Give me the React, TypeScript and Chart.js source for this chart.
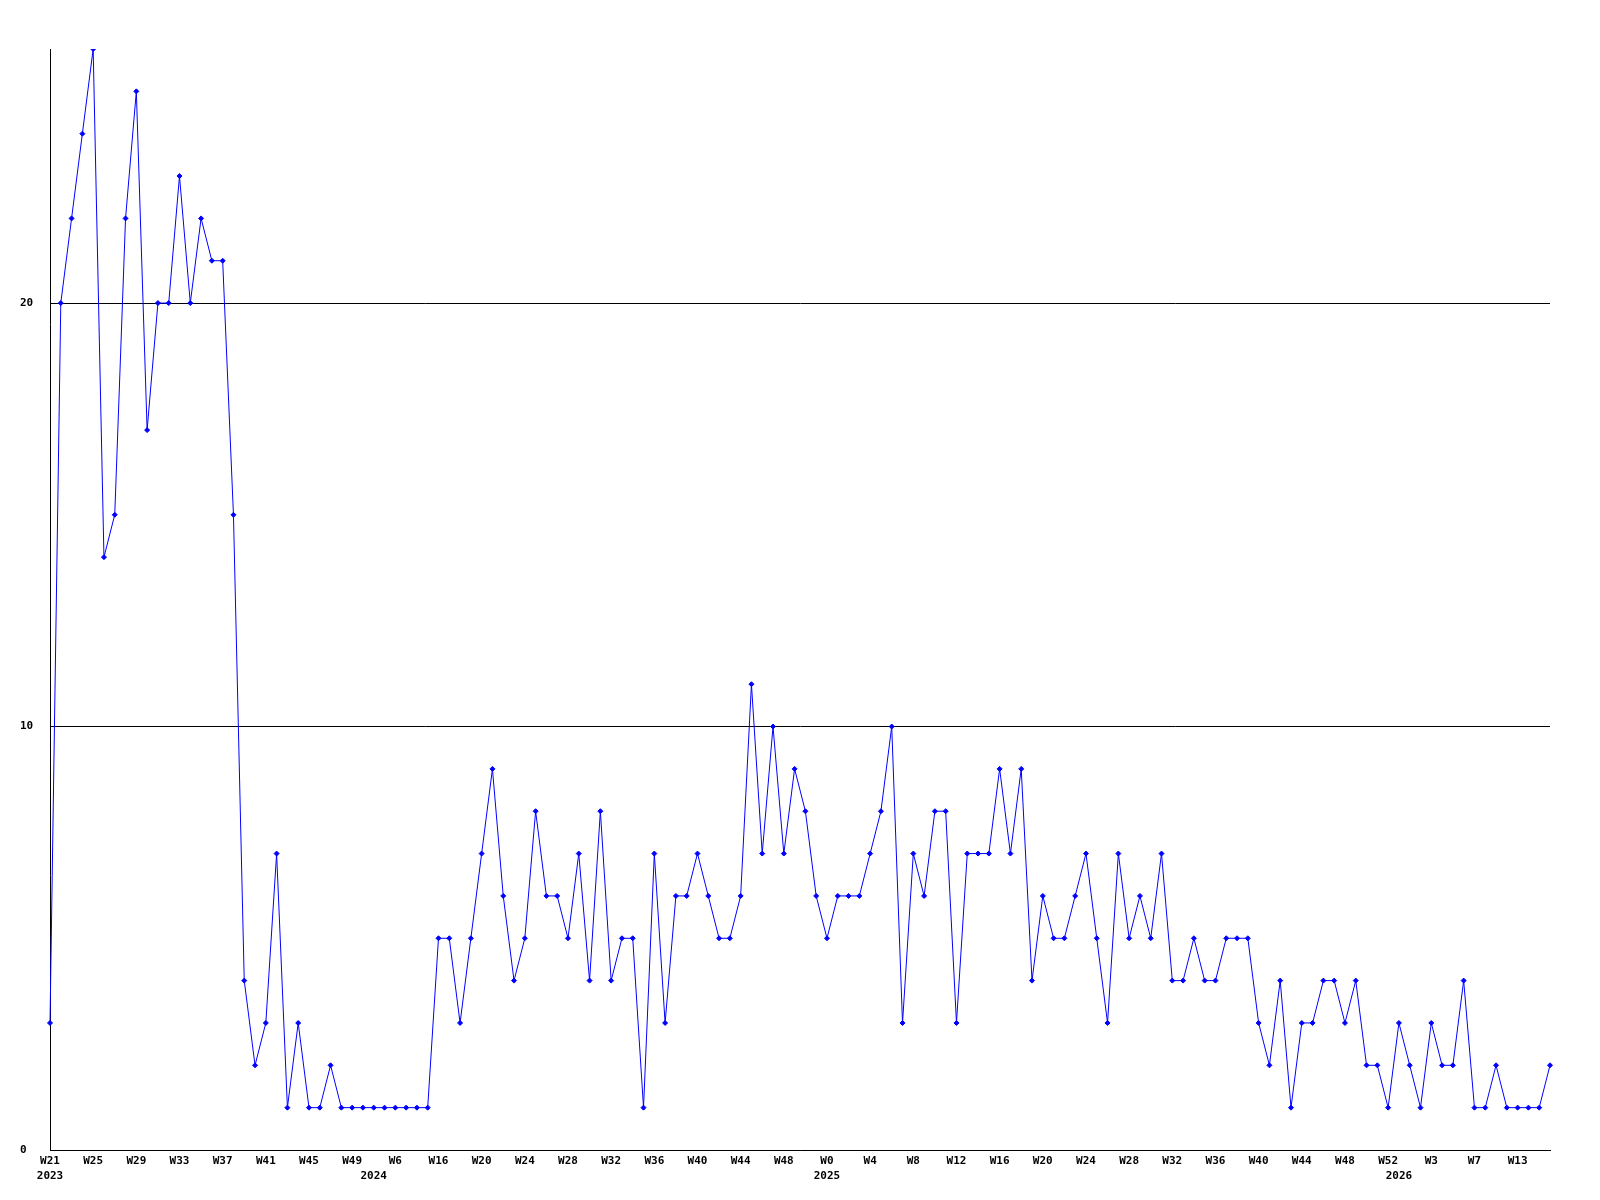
import React, { useEffect, useRef } from "react";
import { Chart, registerables } from "chart.js";

Chart.register(...registerables);

// Week labels shown every 4th point
const weekTicks = [
  "W21", "W25", "W29", "W33", "W37", "W41", "W45", "W49", "W6", "W16",
  "W20", "W24", "W28", "W32", "W36", "W40", "W44", "W48", "W0", "W4",
  "W8", "W12", "W16", "W20", "W24", "W28", "W32", "W36", "W40", "W44",
  "W48", "W52", "W3", "W7", "W13",
];

// Year labels and the point index where each starts
const yearLabels = ["2023", "2024", "2025", "2026"];
const yearIndex = [0, 30, 72, 125];

// Weekly values
const values = [
  3, 20, 22, 24, 26, 14, 15, 22, 25, 17,
  20, 20, 23, 20, 22, 21, 21, 15, 4, 2,
  3, 7, 1, 3, 1, 1, 2, 1, 1, 1,
  1, 1, 1, 1, 1, 1, 5, 5, 3, 5,
  7, 9, 6, 4, 5, 8, 6, 6, 5, 7,
  4, 8, 4, 5, 5, 1, 7, 3, 6, 6,
  7, 6, 5, 5, 6, 11, 7, 10, 7, 9,
  8, 6, 5, 6, 6, 6, 7, 8, 10, 3,
  7, 6, 8, 8, 3, 7, 7, 7, 9, 7,
  9, 4, 6, 5, 5, 6, 7, 5, 3, 7,
  5, 6, 5, 7, 4, 4, 5, 4, 4, 5,
  5, 5, 3, 2, 4, 1, 3, 3, 4, 4,
  3, 4, 2, 2, 1, 3, 2, 1, 3, 2,
  2, 4, 1, 1, 2, 1, 1, 1, 1, 2,
];

const yTicks = [0, 10, 20];
const yMax = 26;

const FONT = { family: "'DejaVu Sans Mono', monospace", size: 11, weight: "bold" as const, lineHeight: 1.36 };

export default function App() {
  const ref = useRef<HTMLCanvasElement | null>(null);

  useEffect(() => {
    if (!ref.current) return;
    const labels = values.map((_, i) => (i % 4 === 0 ? weekTicks[i / 4] ?? "" : ""));
    const chart = new Chart(ref.current, {
      type: "line",
      data: {
        labels,
        datasets: [
          {
            data: values,
            borderColor: "#0000ff",
            backgroundColor: "#0000ff",
            borderWidth: 1,
            pointStyle: "rectRot",
            pointRadius: 2.5,
            pointBorderWidth: 1,
            tension: 0,
            fill: false,
          },
        ],
      },
      options: {
        responsive: false,
        animation: false,
        devicePixelRatio: 1,
        layout: { padding: { top: 49, right: 50, left: 20, bottom: 0 } },
        plugins: { legend: { display: false }, tooltip: { enabled: false } },
        scales: {
          x: {
            type: "category",
            offset: false,
            grid: { display: false, drawTicks: false },
            border: { display: true, color: "#000000", width: 1 },
            afterFit: (s: any) => {
              s.height = 50;
            },
            ticks: {
              autoSkip: false,
              maxRotation: 0,
              minRotation: 0,
              padding: 4,
              color: "#000000",
              font: FONT,
              callback: (_v: any, i: number) => {
                const w = i % 4 === 0 ? weekTicks[i / 4] ?? "" : "";
                const yi = yearIndex.indexOf(i);
                const y = yi >= 0 ? yearLabels[yi] : "";
                if (!w && !y) return "";
                return [w, y];
              },
            },
          },
          y: {
            min: 0,
            max: yMax,
            grid: { display: true, color: "#000000", lineWidth: 1, drawTicks: false },
            border: { display: true, color: "#000000", width: 1 },
            afterFit: (s: any) => {
              s.width = 30;
            },
            afterBuildTicks: (s: any) => {
              s.ticks = yTicks.map((v) => ({ value: v }));
            },
            ticks: {
              crossAlign: "far",
              padding: 4,
              color: "#000000",
              font: FONT,
            },
          },
        },
      },
    });
    return () => chart.destroy();
  }, []);

  return (
    <div style={{ position: "absolute", left: 0, top: 0, width: 1600, height: 1200, background: "#ffffff" }}>
      <canvas ref={ref} width={1600} height={1200} style={{ display: "block", width: 1600, height: 1200 }} />
    </div>
  );
}
